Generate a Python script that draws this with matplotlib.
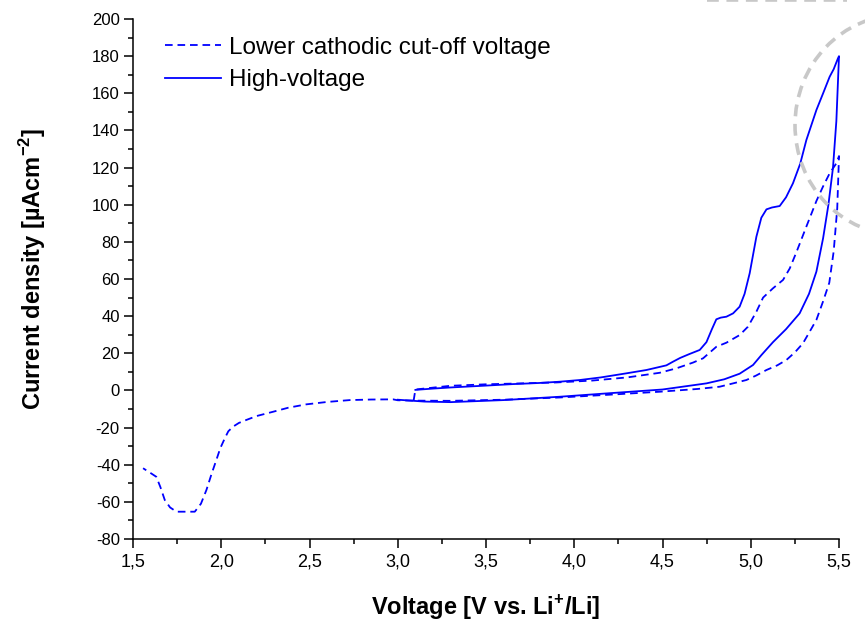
import matplotlib
matplotlib.use("Agg")
import matplotlib.pyplot as plt
from matplotlib.patches import Ellipse
from matplotlib.lines import Line2D
from matplotlib.ticker import MultipleLocator, FuncFormatter

plt.rcParams['font.family'] = ['Liberation Sans', 'DejaVu Sans']
plt.rcParams['mathtext.fontset'] = 'custom'
plt.rcParams['mathtext.rm'] = 'Liberation Sans'
plt.rcParams['mathtext.bf'] = 'Liberation Sans:bold'
plt.rcParams['lines.scale_dashes'] = False

# dashed: lower cathodic cut-off voltage (anodic sweep, then back down to 1.55 V)
low_up_v = [3.09, 3.10, 3.2, 3.3, 3.5, 3.7, 3.9, 4.1, 4.3, 4.484, 4.579, 4.673, 4.73,
            4.805, 4.862, 4.937, 4.984, 5.032, 5.07, 5.126, 5.183, 5.221, 5.259, 5.315,
            5.372, 5.409, 5.447, 5.485, 5.5]
low_up_i = [-5.5, 0.5, 1.5, 2.5, 3.3, 3.8, 4.3, 5.3, 7.0, 9.5, 11.9, 15.0, 17.3,
            23.5, 25.7, 29.8, 34.3, 42.4, 50.0, 55.0, 59.5, 65.7, 74.5, 88.2,
            102.0, 109.7, 116.9, 122.3, 126.2]
low_dn_v = [5.5, 5.49, 5.47, 5.445, 5.41, 5.372, 5.33, 5.296, 5.25, 5.202, 5.15, 5.089,
            5.03, 4.975, 4.9, 4.824, 4.7, 4.484, 4.2, 3.918, 3.6, 3.3, 3.09, 3.0, 2.973,
            2.85, 2.728, 2.6, 2.482, 2.38, 2.293, 2.2, 2.142, 2.1, 2.067, 2.04, 2.02,
            1.995, 1.972, 1.945, 1.916, 1.885, 1.85, 1.746, 1.71, 1.68, 1.655, 1.632,
            1.6, 1.557]
low_dn_i = [126.2, 98.0, 75.0, 58.0, 48.0, 38.0, 31.0, 25.4, 20.5, 16.4, 13.5, 11.0,
            8.0, 5.6, 3.8, 2.0, 0.8, -0.7, -2.3, -3.8, -5.0, -5.6, -5.5, -5.3, -4.8,
            -4.9, -5.2, -6.2, -7.5, -9.3, -11.5, -13.8, -15.9, -17.5, -19.5, -22.0, -25.8,
            -31.0, -37.5, -45.0, -53.6, -61.0, -65.3, -65.3, -63.0, -59.0, -52.0, -46.5,
            -44.5, -41.9]

# solid: high-voltage
high_up_v = [3.10, 3.2, 3.3, 3.5, 3.65, 3.8, 3.918, 4.031, 4.15, 4.295, 4.409, 4.522,
             4.56, 4.6, 4.65, 4.711, 4.749, 4.78, 4.805, 4.83, 4.862, 4.9, 4.937, 4.965,
             4.994, 5.015, 5.032, 5.06, 5.089, 5.12, 5.164, 5.2, 5.239, 5.28, 5.315,
             5.372, 5.41, 5.447, 5.47, 5.494, 5.5]
high_up_i = [0.3, 1.0, 1.6, 2.6, 3.4, 4.0, 4.7, 5.6, 7.0, 9.2, 11.0, 13.5,
             15.5, 17.5, 19.5, 21.8, 26.0, 33.0, 38.3, 39.2, 39.7, 41.5, 45.1, 52.0,
             63.1, 74.0, 82.8, 93.0, 97.5, 98.5, 99.3, 104.0, 111.5, 122.0, 134.8,
             151.0, 160.0, 168.9, 173.0, 178.8, 180.0]
high_dn_v = [5.5, 5.485, 5.466, 5.44, 5.41, 5.372, 5.33, 5.277, 5.2, 5.126, 5.06, 5.013,
             4.937, 4.85, 4.749, 4.5, 4.2, 3.918, 3.6, 3.3, 3.15, 3.0]
high_dn_i = [180.0, 145.0, 120.0, 100.0, 82.0, 64.0, 52.0, 41.5, 33.0, 26.0, 19.0, 13.7,
             9.0, 6.0, 3.8, 0.5, -1.5, -3.4, -5.2, -6.3, -6.0, -5.0]

labels = ['Lower cathodic cut-off voltage', 'High-voltage']

fig = plt.figure(figsize=(8.65, 6.21), dpi=100)
ax = fig.add_axes([133 / 865, 82 / 621, 706 / 865, 520 / 621])

blue = '#0000ff'
ax.plot(low_up_v + low_dn_v, low_up_i + low_dn_i, color=blue, lw=1.3,
        dashes=(5.5, 3.5), label=labels[0], clip_on=False)
ax.plot(high_up_v + high_dn_v, high_up_i + high_dn_i, color=blue, lw=1.3,
        label=labels[1], clip_on=False)

ax.set_xlim(1.5, 5.5)
ax.set_ylim(-80, 200)
ax.xaxis.set_major_locator(MultipleLocator(0.5))
ax.xaxis.set_minor_locator(MultipleLocator(0.25))
ax.yaxis.set_major_locator(MultipleLocator(20))
ax.yaxis.set_minor_locator(MultipleLocator(10))
ax.xaxis.set_major_formatter(FuncFormatter(lambda v, p: f'{v:.1f}'.replace('.', ',')))
ax.yaxis.set_major_formatter(FuncFormatter(lambda v, p: f'{v:.0f}'))

for s in ['top', 'right']:
    ax.spines[s].set_visible(False)
for s in ['left', 'bottom']:
    ax.spines[s].set_linewidth(1.1)
ax.tick_params(which='major', direction='out', length=6.5, width=1.1, pad=3)
ax.tick_params(which='minor', direction='out', length=3.5, width=1.1)
ax.tick_params(axis='y', labelsize=12)
ax.tick_params(axis='x', labelsize=13, pad=4)

ax.set_xlabel(r'Voltage [V vs. Li$^{\mathbf{+}}$/Li]', fontsize=17, fontweight='bold')
ax.set_ylabel(r'Current density [µAcm$^{\mathbf{-2}}$]', fontsize=17, fontweight='bold')
ax.xaxis.set_label_coords(0.5, -0.104)
ax.yaxis.set_label_coords(-0.12, 0.52)

ax.legend(loc='upper left', bbox_to_anchor=(0.0315, 0.985), frameon=False, fontsize=17.5,
          handlelength=2.3, handletextpad=0.33, labelspacing=0.45, borderaxespad=0)

# grey dashed circle overlay in the upper right corner
circ = Ellipse((900 / 865, 1 - 125 / 621), 210 / 865, 220 / 621, transform=fig.transFigure,
               fill=False, edgecolor='#c8c8c8', lw=2.6, linestyle=(0, (8.5, 5.5)))
fig.add_artist(circ)
fig.add_artist(Line2D([707 / 865, 847 / 865], [1.0, 1.0],
                      transform=fig.transFigure, color='#c8c8c8', lw=2.6,
                      linestyle=(0, (8.5, 5.5))))

fig.savefig('out.png', dpi=100)
